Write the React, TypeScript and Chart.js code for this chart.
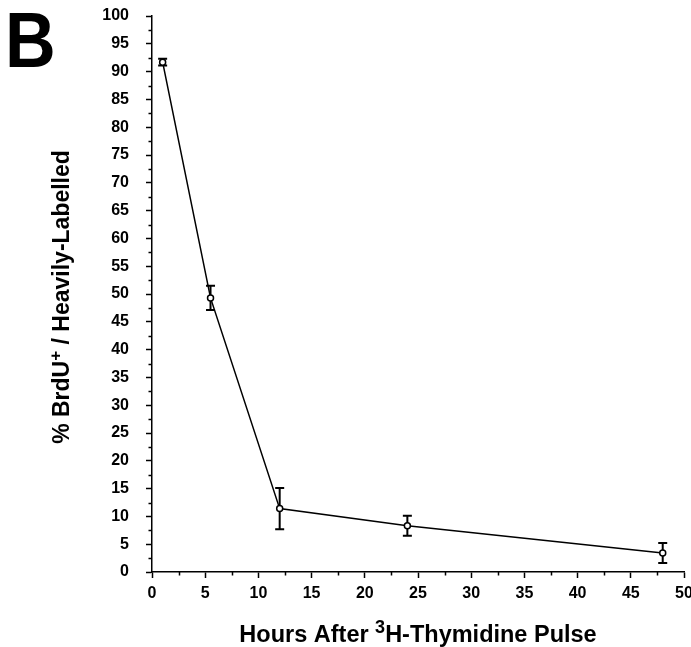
import React, { useEffect, useRef } from "react";
import { Chart, registerables } from "chart.js";

Chart.register(...registerables);

const hours = [1, 5.5, 12, 24, 48];
const percentBrdU = [91.7, 49.3, 11.4, 8.3, 3.4];
const errorSize = [0.6, 2.2, 3.7, 1.8, 1.8];
const xTickValues = [0, 5, 10, 15, 20, 25, 30, 35, 40, 45, 50];
const yTickValues = [0, 5, 10, 15, 20, 25, 30, 35, 40, 45, 50, 55, 60, 65, 70, 75, 80, 85, 90, 95, 100];
const xMinorTicks = [2.5, 7.5, 12.5, 17.5, 22.5, 27.5, 32.5, 37.5, 42.5, 47.5];
const yMinorTicks = [2.5, 7.5, 12.5, 17.5, 22.5, 27.5, 32.5, 37.5, 42.5, 47.5, 52.5, 57.5, 62.5, 67.5, 72.5, 77.5, 82.5, 87.5, 92.5, 97.5];
const panelLabel = "B";
const xTitleParts = [
  { text: "Hours After ", sup: false },
  { text: "3", sup: true },
  { text: "H-Thymidine Pulse", sup: false },
];
const yTitleParts = [
  { text: "% BrdU", sup: false },
  { text: "+", sup: true },
  { text: " / Heavily-Labelled", sup: false },
];

const FONT = "'Liberation Sans', Arial, Helvetica, sans-serif";

function drawRich(ctx: CanvasRenderingContext2D, parts: { text: string; sup: boolean }[], size: number, supSize: number, supRise: number) {
  const fMain = `bold ${size}px ${FONT}`;
  const fSup = `bold ${supSize}px ${FONT}`;
  let total = 0;
  const widths = parts.map((p) => {
    ctx.font = p.sup ? fSup : fMain;
    const w = ctx.measureText(p.text).width;
    total += w;
    return w;
  });
  let x = -total / 2;
  ctx.textBaseline = "alphabetic";
  ctx.textAlign = "left";
  parts.forEach((p, i) => {
    ctx.font = p.sup ? fSup : fMain;
    ctx.fillText(p.text, x, p.sup ? -supRise : 0);
    x += widths[i];
  });
}

const extrasPlugin = {
  id: "extras",
  beforeDatasetsDraw(chart: any) {
    const ctx = chart.ctx;
    const xs = chart.scales.x;
    const ys = chart.scales.y;
    ctx.save();
    ctx.strokeStyle = "#000";
    ctx.lineWidth = 2;
    hours.forEach((h, i) => {
      const px = xs.getPixelForValue(h);
      const top = ys.getPixelForValue(percentBrdU[i] + errorSize[i]);
      const bot = ys.getPixelForValue(percentBrdU[i] - errorSize[i]);
      ctx.beginPath();
      ctx.moveTo(px, top);
      ctx.lineTo(px, bot);
      ctx.moveTo(px - 4.5, top);
      ctx.lineTo(px + 4.5, top);
      ctx.moveTo(px - 4.5, bot);
      ctx.lineTo(px + 4.5, bot);
      ctx.stroke();
    });
    ctx.restore();
  },
  afterDraw(chart: any) {
    const ctx = chart.ctx;
    const xs = chart.scales.x;
    const ys = chart.scales.y;
    const area = chart.chartArea;
    ctx.save();
    ctx.strokeStyle = "#000";
    ctx.lineWidth = 1.5;
    ctx.beginPath();
    xMinorTicks.forEach((v) => {
      const px = Math.round(xs.getPixelForValue(v)) + 0.5;
      ctx.moveTo(px, area.bottom);
      ctx.lineTo(px, area.bottom + 3.5);
    });
    yMinorTicks.forEach((v) => {
      const py = Math.round(ys.getPixelForValue(v)) + 0.5;
      ctx.moveTo(area.left, py);
      ctx.lineTo(area.left - 3.5, py);
    });
    ctx.stroke();

    ctx.fillStyle = "#000";
    // panel label
    ctx.save();
    ctx.translate(5, 67);
    ctx.scale(0.9, 1);
    ctx.font = `bold 78px ${FONT}`;
    ctx.textAlign = "left";
    ctx.textBaseline = "alphabetic";
    ctx.fillText(panelLabel, 0, 0);
    ctx.restore();

    // x title
    ctx.save();
    ctx.translate((area.left + area.right) / 2, 642);
    drawRich(ctx, xTitleParts, 23.5, 18, 9);
    ctx.restore();

    // y title
    ctx.save();
    ctx.translate(69, (area.top + area.bottom) / 2 + 3);
    ctx.rotate(-Math.PI / 2);
    drawRich(ctx, yTitleParts, 23, 17, 8);
    ctx.restore();
    ctx.restore();
  },
};

export default function App() {
  const ref = useRef<HTMLCanvasElement>(null);
  useEffect(() => {
    if (!ref.current) return;
    const chart = new Chart(ref.current, {
      type: "line",
      data: {
        datasets: [
          {
            data: hours.map((h, i) => ({ x: h, y: percentBrdU[i] })),
            borderColor: "#000",
            borderWidth: 1.5,
            pointRadius: 3,
            pointBorderWidth: 1.5,
            pointBackgroundColor: "#fff",
            pointBorderColor: "#000",
            fill: false,
            tension: 0,
          },
        ],
      },
      options: {
        responsive: false,
        animation: false,
        events: [],
        layout: { padding: { left: 0, right: 7, top: 16, bottom: 0 } },
        plugins: { legend: { display: false }, tooltip: { enabled: false } },
        scales: {
          x: {
            type: "linear",
            min: 0,
            max: 50,
            afterBuildTicks: (s: any) => {
              s.ticks = xTickValues.map((v) => ({ value: v }));
            },
            afterFit: (s: any) => {
              s.height = 75;
              s.paddingLeft = 0;
              s.paddingRight = 0;
            },
            border: { display: true, color: "#000", width: 1.5 },
            grid: { display: true, drawOnChartArea: false, drawTicks: true, tickLength: 6, tickColor: "#000", tickWidth: 1.5 },
            ticks: { color: "#000", font: { family: FONT, size: 16, weight: "bold" }, padding: 6, maxRotation: 0, autoSkip: false },
          },
          y: {
            type: "linear",
            min: 0,
            max: 100,
            afterBuildTicks: (s: any) => {
              s.ticks = yTickValues.map((v) => ({ value: v }));
            },
            afterFit: (s: any) => {
              s.width = 152;
              s.paddingTop = 0;
              s.paddingBottom = 0;
            },
            border: { display: true, color: "#000", width: 1.5 },
            grid: { display: true, drawOnChartArea: false, drawTicks: true, tickLength: 6, tickColor: "#000", tickWidth: 1.5 },
            ticks: { color: "#000", font: { family: FONT, size: 16, weight: "bold" }, padding: 17, autoSkip: false },
          },
        },
      },
      plugins: [extrasPlugin],
    } as any);
    return () => chart.destroy();
  }, []);
  return (
    <div style={{ position: "absolute", left: 0, top: 0, width: 691, height: 647, background: "#fff" }}>
      <canvas ref={ref} width={691} height={647} />
    </div>
  );
}
